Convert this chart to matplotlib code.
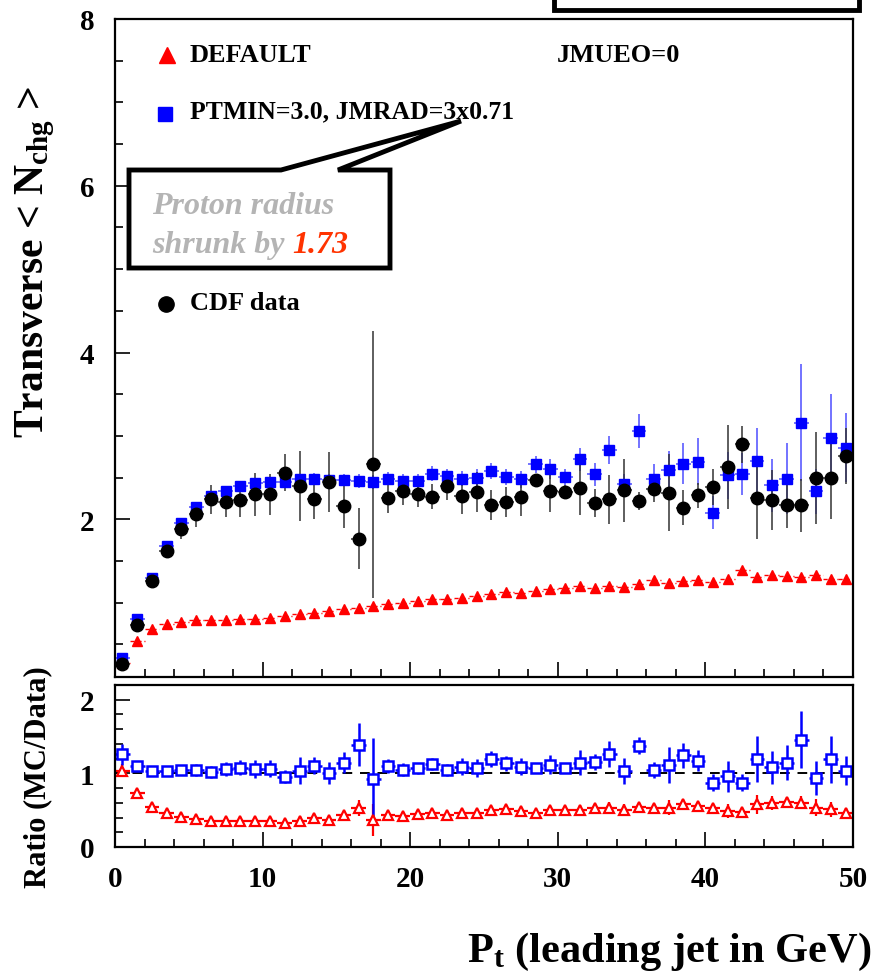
import numpy as np
import matplotlib.pyplot as plt
from matplotlib.patches import Polygon, Rectangle
from matplotlib.ticker import MultipleLocator

plt.rcParams['font.family'] = ['Liberation Serif', 'DejaVu Serif']
plt.rcParams['font.weight'] = 'bold'
plt.rcParams['mathtext.fontset'] = 'custom'
plt.rcParams['mathtext.rm'] = 'Liberation Serif:bold'
plt.rcParams['mathtext.bf'] = 'Liberation Serif:bold'
plt.rcParams['mathtext.it'] = 'Liberation Serif:bold:italic'
plt.rcParams['mathtext.default'] = 'bf'

# bin centres of the leading-jet Pt histogram (GeV)
pt = np.arange(0.5, 50, 1.0)

cdf = [0.27, 0.73, 1.26, 1.62, 1.88, 2.06, 2.24, 2.21, 2.23, 2.30,
       2.30, 2.56, 2.40, 2.25, 2.45, 2.16, 1.77, 2.66, 2.26, 2.34,
       2.30, 2.27, 2.40, 2.28, 2.33, 2.17, 2.21, 2.27, 2.47, 2.34,
       2.33, 2.38, 2.20, 2.24, 2.35, 2.22, 2.37, 2.32, 2.14, 2.29,
       2.39, 2.63, 2.90, 2.26, 2.23, 2.17, 2.17, 2.50, 2.50, 2.76]
cdf_err = [0.02, 0.03, 0.04, 0.08, 0.11, 0.15, 0.17, 0.18, 0.20, 0.26,
           0.25, 0.22, 0.42, 0.24, 0.36, 0.26, 0.37, 1.60, 0.18, 0.17,
           0.15, 0.15, 0.17, 0.22, 0.24, 0.18, 0.18, 0.23, 0.08, 0.25,
           0.08, 0.33, 0.17, 0.29, 0.38, 0.11, 0.16, 0.46, 0.21, 0.15,
           0.22, 0.50, 0.22, 0.50, 0.36, 0.27, 0.32, 0.55, 0.50, 0.34]

default = [0.28, 0.54, 0.69, 0.75, 0.77, 0.79, 0.79, 0.79, 0.80, 0.81,
           0.82, 0.84, 0.86, 0.88, 0.90, 0.93, 0.94, 0.96, 0.98, 1.00,
           1.02, 1.04, 1.05, 1.06, 1.08, 1.10, 1.13, 1.12, 1.14, 1.16,
           1.18, 1.20, 1.18, 1.20, 1.19, 1.22, 1.27, 1.24, 1.26, 1.27,
           1.25, 1.28, 1.39, 1.31, 1.33, 1.32, 1.31, 1.33, 1.28, 1.29]
default_err = [0.01] * 20 + [0.02] * 20 + [0.03] * 10

tuned = [0.34, 0.80, 1.30, 1.68, 1.96, 2.15, 2.28, 2.34, 2.40, 2.44,
         2.45, 2.45, 2.48, 2.49, 2.47, 2.47, 2.46, 2.45, 2.49, 2.46,
         2.46, 2.55, 2.52, 2.49, 2.50, 2.58, 2.51, 2.48, 2.66, 2.61,
         2.51, 2.72, 2.54, 2.83, 2.42, 3.06, 2.48, 2.59, 2.67, 2.69,
         2.08, 2.53, 2.54, 2.70, 2.41, 2.49, 3.16, 2.34, 2.98, 2.86]
tuned_err = [0.03, 0.03, 0.04, 0.04, 0.05, 0.05, 0.05, 0.05, 0.06, 0.06,
             0.06, 0.07, 0.07, 0.07, 0.07, 0.07, 0.08, 0.08, 0.08, 0.08,
             0.08, 0.09, 0.09, 0.09, 0.10, 0.10, 0.10, 0.10, 0.10, 0.12,
             0.10, 0.14, 0.14, 0.17, 0.12, 0.20, 0.19, 0.23, 0.25, 0.28,
             0.20, 0.28, 0.25, 0.40, 0.32, 0.42, 0.70, 0.27, 0.52, 0.41]

cdf = np.array(cdf)
cdf_err = np.array(cdf_err)
default = np.array(default)
default_err = np.array(default_err)
tuned = np.array(tuned)
tuned_err = np.array(tuned_err)


def ratio(mc, mc_err):
    r = mc / cdf
    return r, r * np.sqrt((mc_err / mc) ** 2 + (cdf_err / cdf) ** 2)


r_def, r_def_err = ratio(default, default_err)
r_tun, r_tun_err = ratio(tuned, tuned_err)

W, H = 873, 979


def fx(x):
    return x / W


def fy(y):
    return 1 - y / H


fig = plt.figure(figsize=(W / 100, H / 100), dpi=100)
ax = fig.add_axes([fx(115), fy(678), fx(853) - fx(115), fy(20) - fy(678)])
axr = fig.add_axes([fx(115), fy(848), fx(853) - fx(115), fy(686) - fy(848)])

RED = '#ff0000'
BLUE = '#0000ff'

# upper panel
eb = ax.errorbar(pt, default, yerr=default_err, xerr=0.5, fmt='^', color=RED,
                 ms=7, elinewidth=1.0, capsize=0)
eb[2][0].set_linestyle((0, (3, 2)))
ax.errorbar(pt, tuned, yerr=tuned_err, xerr=0.5, fmt='s', color=BLUE,
            ecolor='#4d4dff', ms=7.5, elinewidth=1.1, capsize=0)
ax.errorbar(pt, cdf, yerr=cdf_err, xerr=0.5, fmt='o', color='black',
            ecolor='#333333', ms=9, elinewidth=1.1, capsize=0)

ax.set_xlim(0, 50)
ax.set_ylim(0.11, 8)
ax.xaxis.set_major_locator(MultipleLocator(10))
ax.xaxis.set_minor_locator(MultipleLocator(2))
ax.yaxis.set_major_locator(MultipleLocator(2))
ax.yaxis.set_minor_locator(MultipleLocator(0.5))
ax.tick_params(labelbottom=False)

# ratio panel
axr.axhline(1, color='black', ls=(0, (5, 4)), lw=1.4, zorder=1)
axr.errorbar(pt, r_def, yerr=r_def_err, xerr=0.5, fmt='^', color=RED,
             mfc='white', mew=1.6, ms=6.5, elinewidth=1.6, capsize=0)
axr.errorbar(pt, r_tun, yerr=r_tun_err, xerr=0.5, fmt='s', color=BLUE,
             mfc='white', mew=1.8, ms=7, elinewidth=1.8, capsize=0)
axr.set_xlim(0, 50)
axr.set_ylim(0, 2.2)
axr.xaxis.set_major_locator(MultipleLocator(10))
axr.xaxis.set_minor_locator(MultipleLocator(2))
axr.yaxis.set_major_locator(MultipleLocator(1))
axr.yaxis.set_minor_locator(MultipleLocator(0.2))

for a in (ax, axr):
    for s in a.spines.values():
        s.set_linewidth(1.6)
    a.tick_params(which='both', direction='in', top=False, right=False,
                  width=1.2, labelsize=21, pad=15)
    a.tick_params(which='major', length=11)
    a.tick_params(which='minor', length=6)
axr.tick_params(axis='x', pad=13)
for lbl in ax.get_yticklabels() + axr.get_xticklabels() + axr.get_yticklabels():
    lbl.set_fontweight('bold')

# axis titles
fig.text(fx(35), fy(262), r'Transverse < N$_{\mathbf{chg}}$ >', rotation=90,
         ha='center', va='center', fontsize=30, fontweight='bold')
fig.text(fx(38), fy(777), 'Ratio (MC/Data)', rotation=90,
         ha='center', va='center', fontsize=22, fontweight='bold')
fig.text(fx(871), fy(962), r'P$_{\mathbf{t}}$ (leading jet in GeV)',
         ha='right', va='baseline', fontsize=30.5, fontweight='bold')

# legend entries
tf = fig.transFigure
ax.plot([fx(167)], [fy(56)], marker='^', color=RED, ms=11, transform=tf, clip_on=False)
ax.plot([fx(165)], [fy(115)], marker='s', color=BLUE, ms=10, transform=tf, clip_on=False)
ax.plot([fx(166)], [fy(305)], marker='o', color='black', ms=11, transform=tf, clip_on=False)
fig.text(fx(190), fy(55), 'DEFAULT', ha='left', va='center', fontsize=19)
fig.text(fx(190), fy(112), 'PTMIN=3.0, JMRAD=3x0.71', ha='left', va='center', fontsize=18.5)
fig.text(fx(190), fy(304), 'CDF data', ha='left', va='center', fontsize=19)
fig.text(fx(557), fy(55), 'JMUEO=0', ha='left', va='center', fontsize=19)

# callout box pointing at the tuned legend entry
callout = [(129, 171), (281, 171), (461, 122), (338, 171), (390, 171),
           (390, 269), (129, 269)]
fig.add_artist(Polygon([(fx(x), fy(y)) for x, y in callout], closed=True,
                       transform=tf, facecolor='white', edgecolor='black',
                       lw=3.5, joinstyle='miter'))
fig.text(fx(152), fy(214), 'Proton radius', ha='left', va='baseline',
         fontsize=23, style='italic', color='#b4b4b4')
t1 = fig.text(fx(152), fy(253), 'shrunk by ', ha='left', va='baseline',
              fontsize=23, style='italic', color='#b4b4b4')
fig.canvas.draw()
ext = t1.get_window_extent()
fig.text(ext.x1 / fig.bbox.width, fy(253), '1.73', ha='left', va='baseline',
         fontsize=23, style='italic', color='#ff3300')

# header box cut by the top edge
fig.add_artist(Rectangle((fx(554), fy(11)), fx(859) - fx(554), fy(-30) - fy(11),
                         transform=tf, facecolor='white', edgecolor='black',
                         lw=3.5, clip_on=False))

fig.savefig('out.png', dpi=100)
